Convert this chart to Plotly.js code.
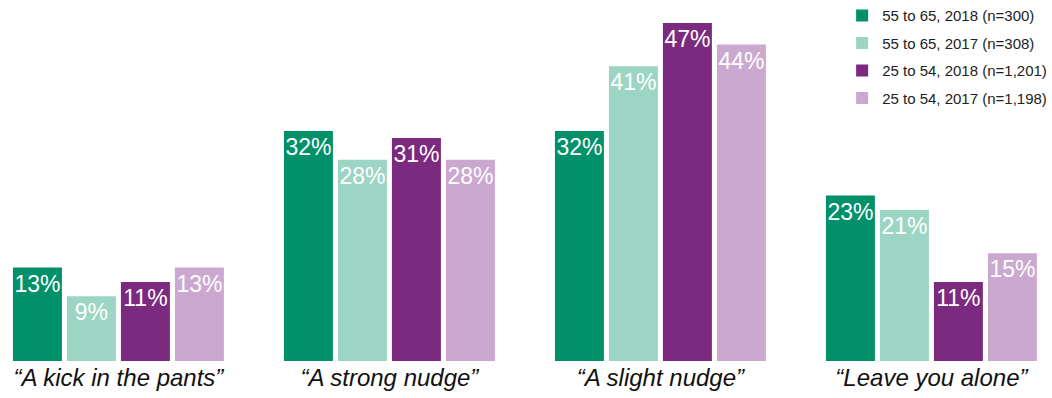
<!DOCTYPE html>
<html>
<head>
<meta charset="utf-8">
<script src="https://cdn.plot.ly/plotly-3.0.1.min.js"></script>
<style>html,body{margin:0;padding:0;background:#fff;}#chart{width:1052px;height:398px;}</style>
</head>
<body>
<div id="chart"></div>
<script>
var categories = ["\u201cA kick in the pants\u201d", "\u201cA strong nudge\u201d", "\u201cA slight nudge\u201d", "\u201cLeave you alone\u201d"];
var seriesNames = ["55 to 65, 2018 (n=300)", "55 to 65, 2017 (n=308)", "25 to 54, 2018 (n=1,201)", "25 to 54, 2017 (n=1,198)"];
var s1 = [13, 32, 32, 23];
var s2 = [9, 28, 41, 21];
var s3 = [11, 31, 47, 11];
var s4 = [13, 28, 44, 15];
var colors = ["#00916A", "#9DD5C5", "#7B2A80", "#CBA8CF"];

var idx = categories.map(function(_, i){ return i; });
var traces = [s1, s2, s3, s4].map(function(vals, k){
  return {
    type: "bar",
    name: seriesNames[k],
    legendgroup: "g" + k,
    x: idx,
    y: vals,
    text: vals.map(function(v){ return v + "%"; }),
    textposition: "inside",
    insidetextanchor: "end",
    constraintext: "none",
    textangle: 0,
    textfont: {color: "#ffffff", size: 23, family: "Liberation Sans, Arial, sans-serif", weight: 300},
    marker: {color: colors[k]},
    hoverinfo: "none"
  };
});

var layout = {
  width: 1052, height: 398,
  margin: {l: 0, r: 0, t: 0, b: 37, autoexpand: false},
  paper_bgcolor: "#ffffff", plot_bgcolor: "#ffffff",
  barmode: "group",
  bargap: 0.203,
  bargroupgap: 0.093,
  showlegend: true,
  legend: {
    x: 0.8005, y: 1.002, xanchor: "left", yanchor: "top",
    font: {family: "Liberation Sans, Arial, sans-serif", size: 15, color: "#222"},
    tracegroupgap: 5, itemclick: false, bgcolor: "rgba(0,0,0,0)"
  },
  xaxis: {
    range: [-0.437, 3.445],
    tickmode: "array",
    tickvals: idx,
    ticktext: categories.map(function(c){ return "<i>" + c + "</i>"; }),
    tickfont: {family: "Liberation Sans, Arial, sans-serif", size: 24, color: "#111"},
    showgrid: false, zeroline: false, showline: false, ticks: "",
    ticklabelstandoff: 0, fixedrange: true, automargin: false
  },
  yaxis: {
    range: [0, 50.2],
    visible: false, showgrid: false, zeroline: false, fixedrange: true
  }
};

Plotly.newPlot("chart", traces, layout, {displayModeBar: false, staticPlot: true});
</script>
</body>
</html>
